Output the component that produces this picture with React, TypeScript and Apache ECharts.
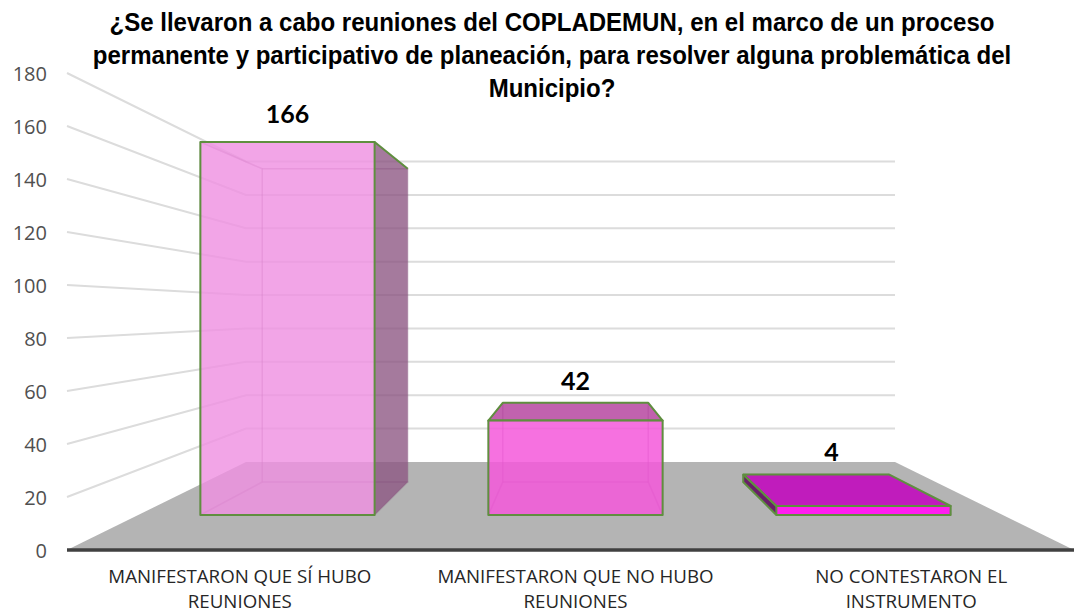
import React, { useEffect, useRef } from "react";
import * as echarts from "echarts";

const titleLines = [
  "¿Se llevaron a cabo reuniones del COPLADEMUN, en el marco de un proceso",
  "permanente y participativo de planeación, para resolver alguna problemática del",
  "Municipio?",
];
const categories = [
  "MANIFESTARON QUE SÍ HUBO\nREUNIONES",
  "MANIFESTARON QUE NO HUBO\nREUNIONES",
  "NO CONTESTARON EL\nINSTRUMENTO",
];
const values = [166, 42, 4];
const wallTicks = [20, 40, 60, 80, 100, 120, 140, 160, 180];

const barLooks = [
  { front: "rgba(239,144,226,0.81)", top: "rgba(190,85,170,0.85)", side: "rgba(140,85,130,0.78)", labelDx: 0, labelDy: -29 },
  { front: "rgba(245,88,218,0.85)", top: "rgba(182,70,160,0.85)", side: "rgba(140,60,130,0.8)", labelDx: 0, labelDy: -23 },
  { front: "rgba(255,30,240,1)", top: "rgba(192,28,188,1)", side: "rgba(105,30,105,1)", labelDx: 14, labelDy: -23 },
];

const FRONT = { sx: 0.858, k: 0.848, y0: 515 };
const REAR = { sx: 0.7165, k: 0.712, y0: 482 };
const GREEN = "#5f8f3f";
const INNER = "rgba(120,70,110,0.22)";

export default function App() {
  const ref = useRef<HTMLDivElement>(null);
  useEffect(() => {
    document.body.style.margin = "0";
    const chart = echarts.init(ref.current!, undefined, { renderer: "svg" });

    const renderWall = (_: any, api: any) => {
      const base = api.coord([0, 0])[1];
      const yf = api.coord([0, api.value(1)])[1];
      const yb = 462 + (yf - base) * 0.63;
      return {
        type: "polyline",
        shape: { points: [[67, yf], [246, yb], [895, yb]] },
        style: { fill: "none", stroke: "#dcdcdc", lineWidth: 2 },
        silent: true,
      };
    };

    const renderBar = (params: any, api: any) => {
      const i = api.value(0);
      const look = barLooks[i];
      const cx = api.coord([1, 0])[0];
      const base = api.coord([0, 0])[1];
      const xc = api.coord([i, 0])[0];
      const yv = api.coord([i, api.value(1)])[1];
      const hw = api.size([1, 0])[0] * 0.3025;
      const proj = (xf: number, yf: number, pl: typeof FRONT) => [
        cx + (xf - cx) * pl.sx,
        pl.y0 + (yf - base) * pl.k,
      ];
      const fbl = proj(xc - hw, base, FRONT);
      const fbr = proj(xc + hw, base, FRONT);
      const ftl = proj(xc - hw, yv, FRONT);
      const ftr = proj(xc + hw, yv, FRONT);
      const rbl = proj(xc - hw, base, REAR);
      const rbr = proj(xc + hw, base, REAR);
      const rtl = proj(xc - hw, yv, REAR);
      const rtr = proj(xc + hw, yv, REAR);

      const poly = (points: number[][], fill: string, stroke: string, lineWidth: number) => ({
        type: "polygon",
        shape: { points },
        style: { fill, stroke, lineWidth, lineJoin: "round" },
      });

      const showRight = rtr[0] > ftr[0];
      const showLeft = rtl[0] < ftl[0];
      const showTop = rtl[1] < ftl[1];

      const children: any[] = [
        poly([rbl, rbr, rtr, rtl], "none", INNER, 1.5),
        poly([fbl, fbr, rbr, rbl], "none", INNER, 1.5),
      ];
      if (!showLeft) children.push(poly([fbl, rbl, rtl, ftl], "none", INNER, 1.5));
      if (!showRight) children.push(poly([fbr, rbr, rtr, ftr], "none", INNER, 1.5));
      if (!showTop) children.push(poly([ftl, ftr, rtr, rtl], "none", INNER, 1.5));
      if (showRight) children.push(poly([fbr, rbr, rtr, ftr], look.side, "none", 0));
      if (showLeft) children.push(poly([fbl, rbl, rtl, ftl], look.side, "none", 0));
      if (showTop) children.push(poly([ftl, ftr, rtr, rtl], look.top, GREEN, 2));
      children.push(poly([fbl, fbr, ftr, ftl], look.front, GREEN, 2));
      if (showRight)
        children.push({
          type: "polyline",
          shape: { points: [ftr, rtr] },
          style: { fill: "none", stroke: GREEN, lineWidth: 2 },
        });
      if (showLeft)
        children.push({
          type: "polyline",
          shape: { points: [rtl, rbl, fbl] },
          style: { fill: "none", stroke: GREEN, lineWidth: 2 },
        });
      if (showLeft)
        children.push({
          type: "polyline",
          shape: { points: [rtl, ftl] },
          style: { fill: "none", stroke: GREEN, lineWidth: 2 },
        });

      const topY = Math.min(ftl[1], rtl[1]);
      const labelX = (ftl[0] + ftr[0]) / 2 + look.labelDx - (showLeft ? 46 : 0);
      children.push({
        type: "text",
        style: {
          x: labelX,
          y: topY + look.labelDy,
          text: String(api.value(1)),
          fill: "#000000",
          fontFamily: "Lato",
          fontWeight: "bold",
          fontSize: 25,
          align: "center",
          verticalAlign: "middle",
        },
      });
      return { type: "group", children };
    };

    chart.setOption({
      animation: false,
      graphic: [
        {
          type: "polygon",
          silent: true,
          shape: { points: [[67, 550], [246, 462], [895, 462], [1074, 550]] },
          style: { fill: "#b4b4b4" },
        },
        {
          type: "line",
          silent: true,
          shape: { x1: 67, y1: 550, x2: 1074, y2: 550 },
          style: { stroke: "#404040", lineWidth: 3.5 },
        },
        {
          type: "text",
          silent: true,
          x: 552,
          y: 5,
          scaleX: 0.907,
          scaleY: 1,
          style: {
            text: titleLines.join("\n"),
            fontFamily: "Liberation Sans",
            fontWeight: "bold",
            fontSize: 26.5,
            lineHeight: 33,
            align: "center",
            verticalAlign: "top",
            fill: "#000000",
          },
        },
      ],
      grid: { left: 72, right: -5, top: 73, bottom: 60, outerBoundsMode: "none" },
      xAxis: {
        type: "category",
        data: categories,
        axisLine: { show: false },
        axisTick: { show: false },
        axisLabel: {
          interval: 0,
          margin: 13,
          fontFamily: "Open Sans",
          fontSize: 18.7,
          lineHeight: 25,
          color: "#262626",
        },
      },
      yAxis: {
        type: "value",
        min: 0,
        max: 180,
        interval: 20,
        splitLine: { show: false },
        axisLine: { show: false },
        axisTick: { show: false },
        axisLabel: {
          margin: 25,
          fontFamily: "Open Sans",
          fontSize: 20,
          color: "#505050",
        },
      },
      series: [
        {
          type: "custom",
          name: "wall",
          silent: true,
          renderItem: renderWall,
          data: wallTicks.map((v) => [0, v]),
          encode: { x: 0, y: 1 },
          z: 1,
        },
        {
          type: "custom",
          name: "bars",
          silent: true,
          renderItem: renderBar,
          data: values.map((v, i) => [i, v]),
          encode: { x: 0, y: 1 },
          z: 3,
        },
      ],
    });
    return () => chart.dispose();
  }, []);
  return <div ref={ref} style={{ width: 1074, height: 610 }} />;
}
